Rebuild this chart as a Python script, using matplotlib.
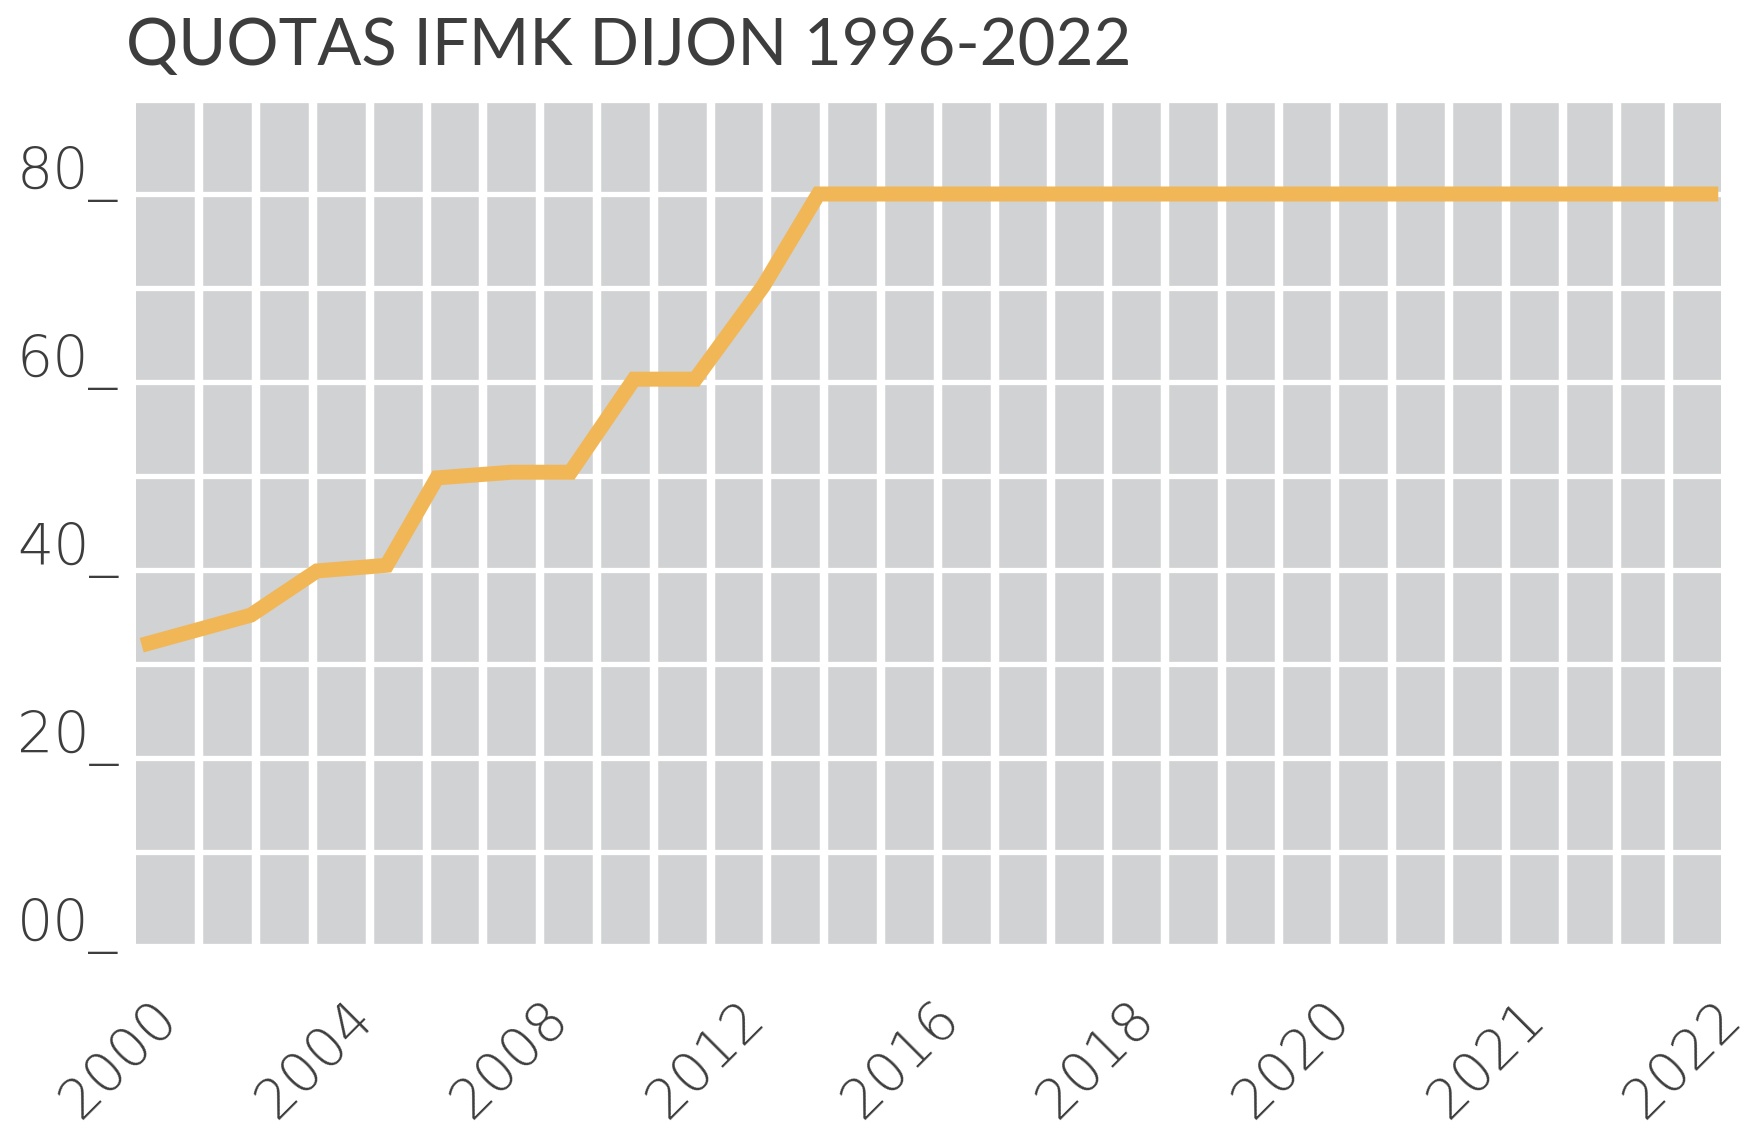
import numpy as np
import matplotlib
matplotlib.use("Agg")
import matplotlib.pyplot as plt

# line (x in years along the plot, quota values)
x_pos = [1996.00, 1997.80, 1998.89, 2000.04, 2000.87, 2002.10, 2003.07,
         2004.12, 2005.13, 2006.25, 2007.16, 2022.00]
quota = [32, 35.2, 39.9, 40.5, 49.8, 50.4, 50.4, 60.3, 60.3, 70.2, 80, 80]

y_ticks = [0, 20, 40, 60, 80]
y_labels = ["00_", "20_", "40_", "60_", "80_"]
x_labels = ["2000", "2004", "2008", "2012", "2016", "2018", "2020", "2021", "2022"]

GRAY = "#D1D2D4"
ORANGE = "#F1B757"
TXT = "#3D3D3D"
TICKFONT = "DejaVu Sans"

fig = plt.figure(figsize=(17.57, 11.38), dpi=100)
ax = fig.add_axes([136 / 1757, 192 / 1138, 1585 / 1757, 846 / 1138])
ax.set_facecolor(GRAY)
for s in ax.spines.values():
    s.set_visible(False)
ax.set_xlim(1995.906, 2022.045)
ax.set_ylim(0, 90)
ax.set_xticks([])
ax.set_yticks([])

# white grid: rows every 10, columns roughly every 0.94 year
for yv in range(0, 91, 10):
    ax.axhline(yv, color="white", lw=3.8, zorder=1)
grid_x = np.r_[1996.953 + 0.9367 * np.arange(25), 2020.33, 2021.19]
for xv in grid_x:
    ax.axvline(xv, color="white", lw=6.1, zorder=1)

ax.plot(x_pos, quota, color=ORANGE, lw=10.8, solid_joinstyle="miter",
        solid_capstyle="butt", zorder=3)

for yv, lab in zip(y_ticks, y_labels):
    ax.annotate(lab, xy=(0, yv), xycoords=("axes fraction", "data"),
                xytext=(-13, 3.5), textcoords="offset points",
                ha="right", va="baseline", fontsize=41, color=TXT,
                family=TICKFONT, fontweight=200)

lab_x = np.linspace(0.0087, 0.995, len(x_labels))
for xf, lab in zip(lab_x, x_labels):
    ax.text(xf, -0.053, lab, transform=ax.transAxes, rotation=45,
            rotation_mode="anchor", ha="right", va="top", fontsize=40,
            color=TXT, family=TICKFONT, fontweight=200, clip_on=False)

fig.text(126 / 1757, 1 - 65 / 1138, "QUOTAS IFMK DIJON 1996-2022",
         ha="left", va="baseline", fontsize=47, color=TXT, family="Lato")

fig.savefig("out.png", dpi=100, facecolor="white")
